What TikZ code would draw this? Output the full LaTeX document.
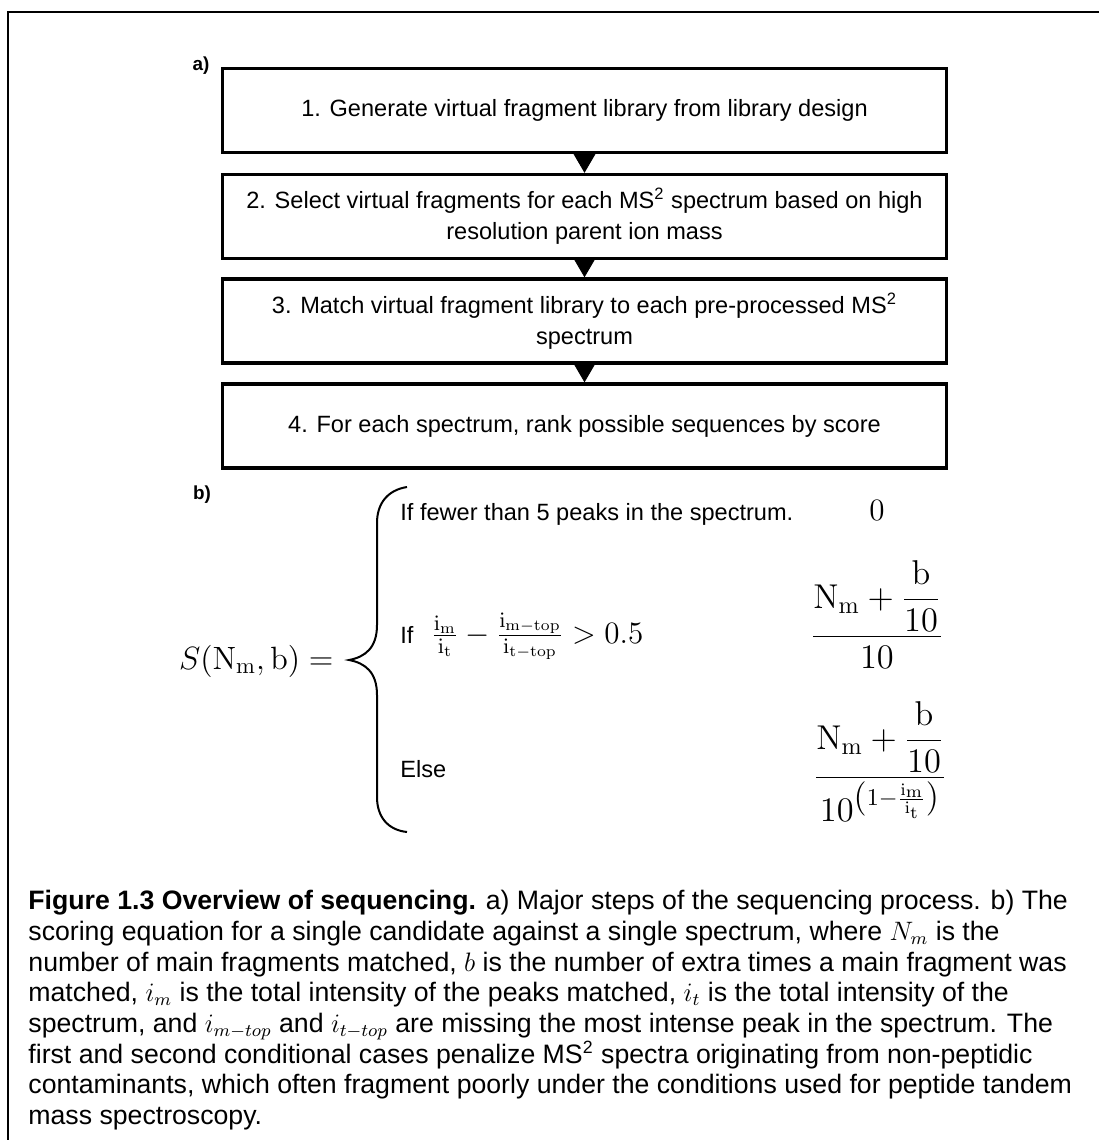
\RequirePackage{fix-cm}
\documentclass[tikz,border=0pt]{standalone}
\usepackage{amsmath}
\usepackage[no-math]{fontspec}
\setmainfont{Liberation Sans}
\usetikzlibrary{arrows.meta}

\begin{document}
\begin{tikzpicture}[
    x=0.45pt, y=-0.45pt,
    stage/.style={
        draw=black,
        line width=1.5pt,
        minimum width=326pt,
        minimum height=37.8pt,
        align=center,
        inner sep=0pt,
        font=\fontsize{10.6}{14}\selectfont
    },
    flow/.style={
        -{Triangle[length=9pt,width=10.4pt]},
        line width=0.4pt
    },
    casetext/.style={
        anchor=base west,
        inner sep=0pt,
        font=\fontsize{10.6}{12.7}\selectfont
    },
    bigmath/.style={
        inner sep=0pt,
        font=\fontsize{15.5}{18}\selectfont
    },
    smallmath/.style={
        inner sep=0pt,
        font=\fontsize{14}{16}\selectfont
    },
    panel/.style={
        inner sep=0pt,
        font=\fontsize{8.5}{10}\selectfont\bfseries
    }
]
    \useasboundingbox (0,0) rectangle (1099,1140);
    % outer frame
    \draw[line width=0.9pt] (1099,12) -- (7.5,12) -- (7.5,1140);

    % a) the four steps
    \node[panel] (lbla) at (201,66) {a)};
    \node[stage] (stepone) at (584.5,110.5)
        {1. Generate virtual fragment library from library design};
    \node[stage] (steptwo) at (584.5,216.5)
        {2. Select virtual fragments for each MS\textsuperscript{2} spectrum based on high\\
         resolution parent ion mass};
    \node[stage] (stepthree) at (584.5,321)
        {3. Match virtual fragment library to each pre-processed MS\textsuperscript{2}\\
         spectrum};
    \node[stage] (stepfour) at (584.5,426)
        {4. For each spectrum, rank possible sequences by score};

    \draw[flow] (stepone.south) -- (steptwo.north);
    \draw[flow] (steptwo.south) -- (stepthree.north);
    \draw[flow] (stepthree.south) -- (stepfour.north);

    % b) scoring equation
    \node[panel] (lblb) at (202,495) {b)};
    \node[bigmath, anchor=base east, font=\fontsize{14.5}{17}\selectfont] (lhs) at (334,669)
        {$S(\mathrm{N_m},\mathrm{b}) =$};
    \draw[line width=0.9pt]
        (407,487) .. controls (388,490) and (377,503) .. (377,523)
        -- (377,625) .. controls (377,648) and (365,657) .. (349,660)
        .. controls (365,663) and (377,672) .. (377,695)
        -- (377,797) .. controls (377,817) and (388,830) .. (407,832);

    \node[casetext] (condone) at (400,520.5)
        {If fewer than 5 peaks in the spectrum.};
    \node[smallmath, anchor=base] (valone) at (877,520) {$0$};

    \node[casetext] (condtwo) at (400,643)
        {If\hspace{8pt}{\fontsize{14}{16}\selectfont
        $\tfrac{\mathrm{i_m}}{\mathrm{i_t}}
        - \tfrac{\mathrm{i_{m-top}}}{\mathrm{i_{t-top}}} > 0.5$}};
    \node[bigmath, anchor=base] (valtwo) at (877,645)
        {$\dfrac{\mathrm{N_m}+\dfrac{\mathrm{b}}{10}}{10}$};

    \node[casetext] (condthree) at (400,777) {Else};
    \node[bigmath, anchor=base] (valthree) at (880,786)
        {$\dfrac{\mathrm{N_m}+\dfrac{\mathrm{b}}{10}}
        {10^{\left(1-\frac{\mathrm{i_m}}{\mathrm{i_t}}\right)}}$};

    % caption
    \node[anchor=north west, inner sep=0pt, align=left,
        font=\fontsize{12}{13.8}\selectfont] (caption) at (28,890)
        {\textbf{Figure 1.3 Overview of sequencing.} a) Major steps of the sequencing process. b) The\\
        scoring equation for a single candidate against a single spectrum, where $N_m$ is the\\
        number of main fragments matched, $b$ is the number of extra times a main fragment was\\
        matched, $i_m$ is the total intensity of the peaks matched, $i_t$ is the total intensity of the\\
        spectrum, and $i_{m-top}$ and $i_{t-top}$ are missing the most intense peak in the spectrum. The\\
        first and second conditional cases penalize MS\textsuperscript{2} spectra originating from non-peptidic\\
        contaminants, which often fragment poorly under the conditions used for peptide tandem\\
        mass spectroscopy.};
\end{tikzpicture}
\end{document}
